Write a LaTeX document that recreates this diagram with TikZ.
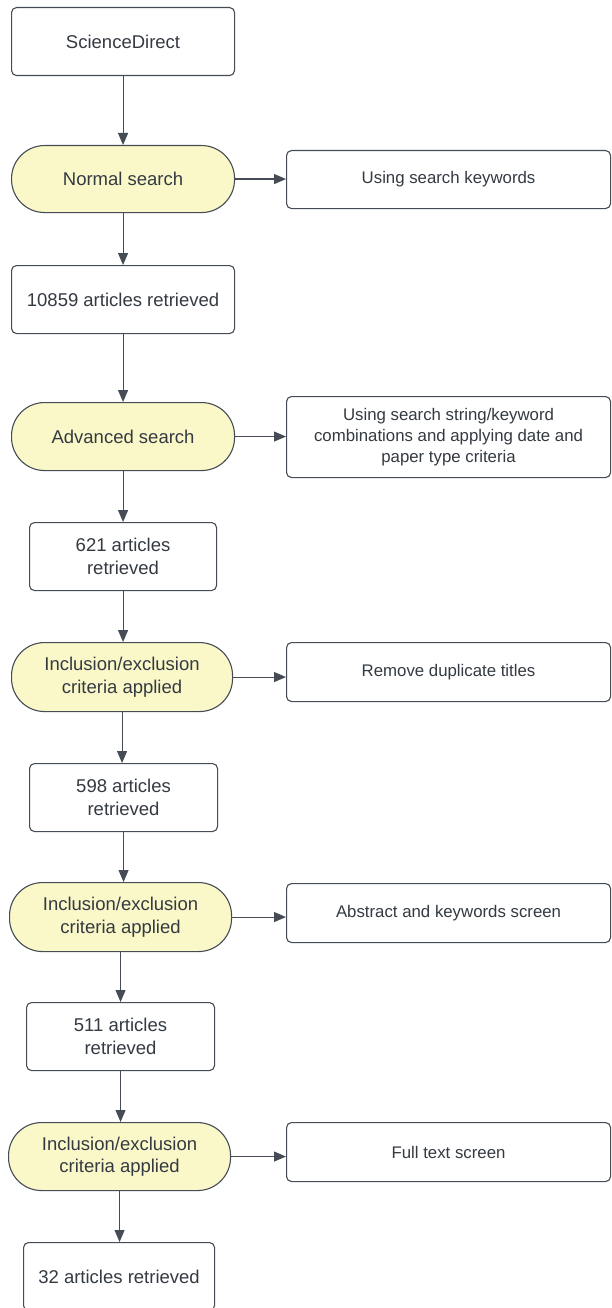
\documentclass[tikz,border=0pt]{standalone}
\usepackage{fontspec}
\setmainfont{Liberation Sans}
\usetikzlibrary{arrows.meta}
\definecolor{ln}{RGB}{70,76,86}
\definecolor{tx}{RGB}{52,58,66}
\definecolor{pillfill}{RGB}{250,248,200}
\tikzset{
  base/.style={draw=ln, line width=1.1pt, anchor=north west, inner sep=0pt, align=center, text=tx},
  box/.style={base, rounded corners=5pt, fill=white, font=\fontsize{18.5}{22.5}\selectfont},
  rbox/.style={base, rounded corners=5pt, fill=white, font=\fontsize{16.8}{21}\selectfont},
  pill/.style={base, rounded corners=33pt, fill=pillfill, font=\fontsize{18.5}{22.5}\selectfont},
  arr/.style={draw=ln, line width=1.1pt, -{Triangle[length=12pt,width=10pt]}}
}
\begin{document}
\begin{tikzpicture}[x=1pt,y=-1pt]
\clip (0,0) rectangle (611,1308);
\fill[white] (0,0) rectangle (611,1308);
% left column
\node[box, minimum width=223pt, minimum height=68pt] (sd) at (11,7) {ScienceDirect};
\node[pill, minimum width=223pt, minimum height=67pt] (ns) at (11,145) {Normal search};
\node[box, minimum width=223pt, minimum height=68pt] (n1) at (11,265) {10859 articles retrieved};
\node[pill, minimum width=223pt, minimum height=68pt] (as) at (11,402) {Advanced search};
\node[box, minimum width=187pt, minimum height=68pt] (n2) at (29,522) {621 articles\\retrieved};
\node[pill, minimum width=221pt, minimum height=69pt] (ie1) at (11,642) {Inclusion/exclusion\\criteria applied};
\node[box, minimum width=188pt, minimum height=68pt] (n3) at (29,763) {598 articles\\retrieved};
\node[pill, minimum width=222pt, minimum height=69pt] (ie2) at (9,882) {Inclusion/exclusion\\criteria applied};
\node[box, minimum width=188pt, minimum height=68pt] (n4) at (26,1002) {511 articles\\retrieved};
\node[pill, minimum width=222pt, minimum height=68pt] (ie3) at (8,1122) {Inclusion/exclusion\\criteria applied};
\node[box, minimum width=191pt, minimum height=68pt, text depth=0pt] (n5) at (23,1242) {32 articles retrieved};
% right column
\node[rbox, minimum width=324pt, minimum height=58pt] (r1) at (286,150) {Using search keywords};
\node[rbox, minimum width=324pt, minimum height=81pt] (r2) at (286,396) {Using search string/keyword\\combinations and applying date and\\paper type criteria};
\node[rbox, minimum width=324pt, minimum height=59pt] (r3) at (286,642) {Remove duplicate titles};
\node[rbox, minimum width=324pt, minimum height=59pt] (r4) at (286,883) {Abstract and keywords screen};
\node[rbox, minimum width=324pt, minimum height=59pt] (r5) at (286,1122) {Full text screen};
% vertical arrows
\draw[arr] (sd.south) -- (sd.south |- ns.north);
\draw[arr] (ns.south) -- (ns.south |- n1.north);
\draw[arr] (n1.south) -- (n1.south |- as.north);
\draw[arr] (as.south) -- (as.south |- n2.north);
\draw[arr] (n2.south) -- (n2.south |- ie1.north);
\draw[arr] (ie1.south) -- (ie1.south |- n3.north);
\draw[arr] (n3.south) -- (n3.south |- ie2.north);
\draw[arr] (ie2.south) -- (ie2.south |- n4.north);
\draw[arr] (n4.south) -- (n4.south |- ie3.north);
\draw[arr] (ie3.south) -- (ie3.south |- n5.north);
% horizontal arrows
\draw[arr] (ns.east) -- (ns.east -| r1.west);
\draw[arr] (as.east) -- (as.east -| r2.west);
\draw[arr] (ie1.east) -- (ie1.east -| r3.west);
\draw[arr] (ie2.east) -- (ie2.east -| r4.west);
\draw[arr] (ie3.east) -- (ie3.east -| r5.west);
\end{tikzpicture}
\end{document}
